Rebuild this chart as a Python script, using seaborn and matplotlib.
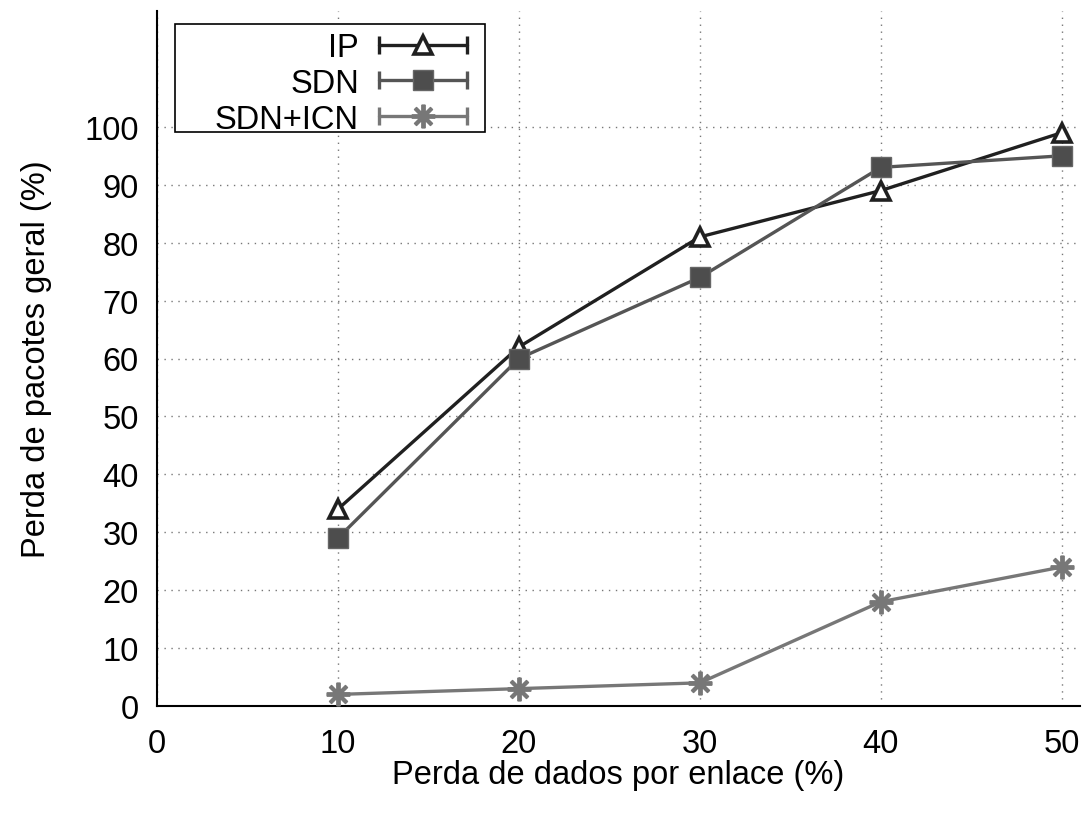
import matplotlib
matplotlib.use("Agg")
import matplotlib.pyplot as plt
import seaborn as sns
import pandas as pd
from matplotlib.lines import Line2D
from matplotlib.patches import Rectangle
from matplotlib.legend_handler import HandlerLine2D, HandlerTuple

# ---- data ----
loss_per_link = [10, 20, 30, 40, 50]
ip_loss = [34, 62, 81, 89, 99]
sdn_loss = [29, 60, 74, 93, 95]
sdn_icn_loss = [2, 3, 4, 18, 24]
series_names = ["IP", "SDN", "SDN+ICN"]
x_ticks = [0, 10, 20, 30, 40, 50]
y_ticks = [0, 10, 20, 30, 40, 50, 60, 70, 80, 90, 100]

sns.set_style("white")
plt.rcParams["font.family"] = ["Liberation Sans", "DejaVu Sans"]
plt.rcParams["text.color"] = "black"
plt.rcParams["axes.labelcolor"] = "black"
FS = 23.5

fig = plt.figure(figsize=(10.9, 8.2), dpi=100)
ax = fig.add_axes([157/1090, 1-707/820, (1080-157)/1090, (707-12)/820])

styles = {
    "IP": dict(color="#202020", marker="^", mfc="white", mec="#202020", ms=13.5, mew=2.6),
    "SDN": dict(color="#555555", marker="s", mfc="#4d4d4d", mec="#666666", ms=15, mew=1),
    "SDN+ICN": dict(color="#777777", marker=(8, 2, 0), mfc="#777777", mec="#777777", ms=17, mew=2.8),
}
values = {"IP": ip_loss, "SDN": sdn_loss, "SDN+ICN": sdn_icn_loss}

handles = []
hmap = {}
for name in series_names:
    st = styles[name]
    df = pd.DataFrame({"x": loss_per_link, "y": values[name]})
    sns.lineplot(data=df, x="x", y="y", ax=ax, color=st["color"], lw=2.4,
                 marker=st["marker"], markerfacecolor=st["mfc"],
                 markeredgecolor=st["mec"], markersize=st["ms"],
                 markeredgewidth=st["mew"], zorder=3, legend=False)
    cap = Line2D([], [], color=st["color"], lw=2.4, marker="|", ms=13, mew=2.4)
    mk = Line2D([], [], color=st["color"], lw=0, marker=st["marker"],
                markerfacecolor=st["mfc"], markeredgecolor=st["mec"],
                markersize=st["ms"], markeredgewidth=st["mew"])
    hmap[cap] = HandlerLine2D(numpoints=2)
    hmap[mk] = HandlerLine2D(numpoints=1)
    handles.append((cap, mk))

hmap[tuple] = HandlerTuple(ndivide=1, pad=0)

ax.set_xlim(0, 51)
ax.set_ylim(0, 120)
ax.set_xticks(x_ticks)
ax.set_yticks(y_ticks)
ax.tick_params(axis="both", direction="in", length=10, width=1.5, labelsize=FS,
               colors="black", labelcolor="black")
ax.tick_params(axis="x", pad=16)
ax.tick_params(axis="y", pad=13)
for s in ["top", "right"]:
    ax.spines[s].set_visible(False)
for s in ["left", "bottom"]:
    ax.spines[s].set_color("black")
    ax.spines[s].set_linewidth(1.5)

ax.grid(True, color="#777777", linestyle=(0, (1, 4)), lw=1)
ax.set_axisbelow(True)

ax.set_xlabel("Perda de dados por enlace (%)", fontsize=FS, labelpad=0, color="black")
ax.set_ylabel("Perda de pacotes geral (%)", fontsize=FS, labelpad=23, color="black")

# legend frame (gnuplot-style box with extra room on the left)
frame = Rectangle((18/923, (707-133)/695), (485-175)/923, (133-25)/695,
                  transform=ax.transAxes, facecolor="white", edgecolor="black",
                  lw=1.2, zorder=4)
ax.add_patch(frame)

leg = ax.legend(handles, series_names, handler_map=hmap, loc="upper right",
                bbox_to_anchor=((477-157)/923, (707-33)/695), borderaxespad=0,
                markerfirst=False, fontsize=FS, frameon=False,
                handlelength=3.3, handletextpad=0.32,
                labelspacing=0.15, borderpad=0)
leg.set_zorder(5)

fig.savefig("out.png", dpi=100)
